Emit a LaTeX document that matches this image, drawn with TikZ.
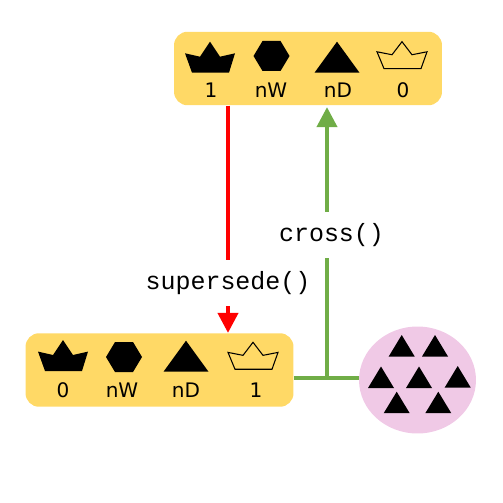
\documentclass[tikz,border=0pt]{standalone}
\usepackage{fontspec}
\setmainfont{DejaVu Sans}
\setmonofont{Liberation Mono}
\usetikzlibrary{arrows.meta, shapes.geometric}
\tikzset{
    cardG/.style={fill=cardY, rounded corners=0.27cm, minimum width=5.36cm, minimum height=1.47cm, inner sep=0pt},
    poolG/.style={fill=poolP, ellipse, minimum width=2.34cm, minimum height=2.14cm, inner sep=0pt},
    countG/.style={inner sep=0pt, font=\fontsize{11.4pt}{13pt}\selectfont},
    callG/.style={inner sep=0pt, minimum height=0.92cm, font=\fontsize{14.2pt}{16pt}\selectfont\ttfamily},
    arrowR/.style={draw=red, line width=0.08cm},
    arrowV/.style={draw=leafV, line width=0.08cm},
    headG/.style={-{Triangle[width=0.4cm,length=0.4cm]}},
    crownG/.pic={\path[pic actions] (-25,11.6) -- (-10,15) -- (0,0) -- (10,15) -- (25,11.6) -- (19,31) -- (-18,31) -- cycle;},
    hexG/.pic={\path[pic actions] (-18,15) -- (-9,0) -- (9,0) -- (18,15) -- (9,30) -- (-9,30) -- cycle;},
    triG/.pic={\path[pic actions] (-22.5,31) -- (0,0) -- (22.5,31) -- cycle;},
    minitriG/.pic={\path[pic actions] (-13,21.5) -- (0,0) -- (13,21.5) -- cycle;}
}
\definecolor{cardY}{HTML}{FFD966}
\definecolor{poolP}{HTML}{F0C9E6}
\definecolor{leafV}{HTML}{70AD47}
\begin{document}
\begin{tikzpicture}[x=0.02cm, y=-0.02cm]
    \useasboundingbox (0,0) rectangle (503,503);
    % the two cards and the pool
    \node[cardG] (cardT) at (308,68.5) {};
    \node[cardG] (cardB) at (159.5,370) {};
    \node[poolG] (pool) at (417.5,380) {};
    % top card
    \pic[fill=black] at (210,41.7) {crownG};
    \pic[fill=black] at (271.5,41) {hexG};
    \pic[fill=black] at (337,41.7) {triG};
    \pic[draw=black, line width=0.6pt, yscale=0.87] at (402,41.7) {crownG};
    \foreach \x/\t/\n in {211/1/a1, 271/nW/a2, 338/nD/a3, 403/0/a4}{
    \node[countG] (\n) at (\x,90) {\t};}
    % bottom card
    \pic[fill=black] at (63,340) {crownG};
    \pic[fill=black] at (124,342) {hexG};
    \pic[fill=black] at (186,340.7) {triG};
    \pic[draw=black, line width=0.6pt, yscale=0.87] at (253,342.3) {crownG};
    \foreach \x/\t/\n in {63/0/b1, 122/nW/b2, 186/nD/b3, 256/1/b4}{
    \node[countG] (\n) at (\x,390) {\t};}
    % pool of triangles
    \foreach \x/\y in {401.7/335, 435/335, 381/366.5, 419/366.5, 457.7/366, 396.7/391.7, 438.3/391.7}{
    \pic[fill=black] at (\x,\y) {minitriG};}
    % calls
    \node[callG] (supersede) at (228,283) {supersede()};
    \node[callG] (cross) at (331.5,235) {cross()};
    \coordinate (join) at (327,378);
    % connectors
    \draw[arrowR] (cardT.south -| supersede) -- (supersede.north);
    \draw[arrowR, headG] (supersede.south) -- (cardB.north -| supersede);
    \draw[arrowV] (cardB.east |- join) -- (pool.west |- join);
    \draw[arrowV] (join) -- (cross.south -| join);
    \draw[arrowV, headG, shorten >=0.03cm] (cross.north -| join) -- (cardT.south -| join);
\end{tikzpicture}
\end{document}
